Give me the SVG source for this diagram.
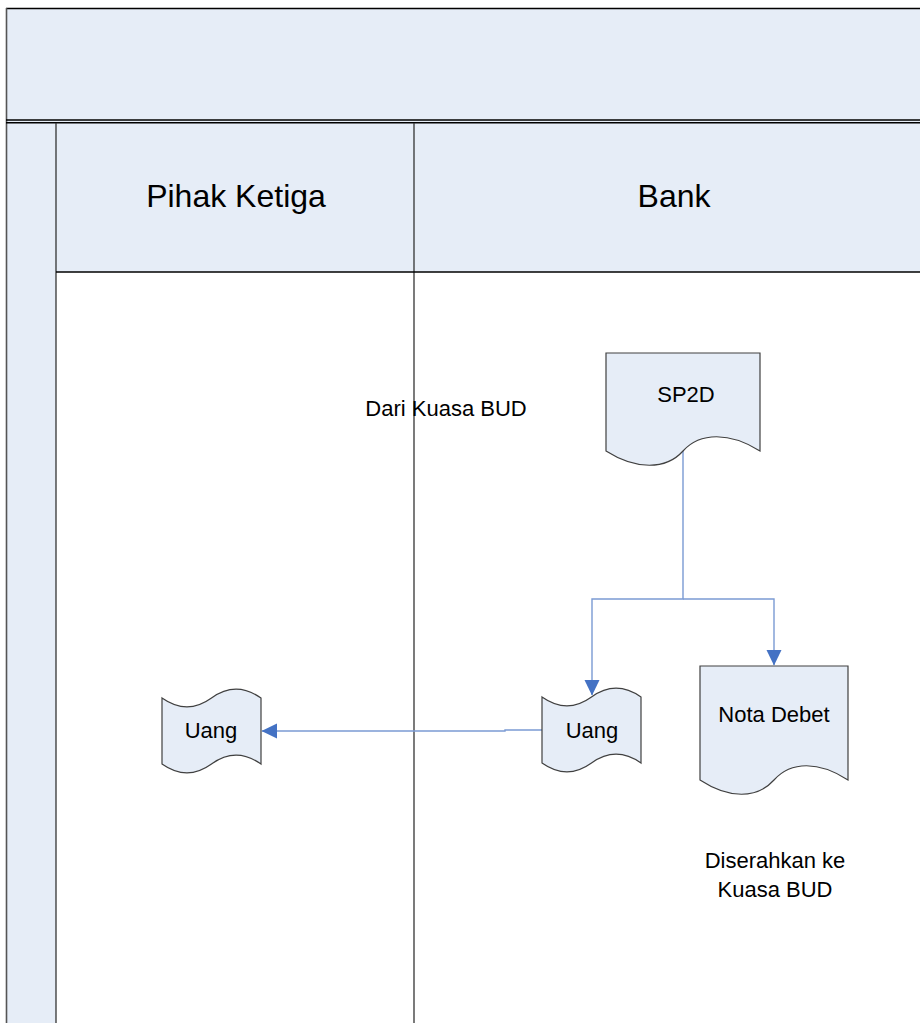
<svg xmlns="http://www.w3.org/2000/svg" width="920" height="1023" viewBox="0 0 920 1023">
  <style>
    .frame { fill: #E6EDF7; stroke: none; }
    .rule { stroke: #000; stroke-width: 1.4; fill: none; }
    .lane { stroke: #333; stroke-width: 1.3; fill: none; }
    .doc { fill: #E6EDF7; stroke: #404040; stroke-width: 1.2; }
    .title { font-family: "Liberation Sans", Arial, sans-serif; font-size: 32px; fill: #000; text-anchor: middle; }
    .label { font-family: "Liberation Sans", Arial, sans-serif; font-size: 22px; fill: #000; text-anchor: middle; }
    .flow { stroke: #7B9BD3; stroke-width: 1.4; fill: none; }
  </style>
  <defs>
    <marker id="arrow" markerUnits="userSpaceOnUse" markerWidth="16" markerHeight="16" viewBox="0 0 16 16" refX="15" refY="8" orient="auto">
      <path d="M0,0.5 L15.5,8 L0,15.5 Z" fill="#4472C4"/>
    </marker>
  </defs>

  <rect width="920" height="1023" fill="#fff"/>

  <!-- pool frame: title band, label strip and lane headers -->
  <g id="pool">
    <rect class="frame" x="6" y="8" width="920" height="114"/>
    <rect class="frame" x="6" y="122" width="50" height="901"/>
    <rect class="frame" x="56" y="122" width="870" height="150"/>
    <line class="rule" x1="6" y1="8.5" x2="920" y2="8.5" stroke-width="1.8"/>
    <line x1="6.5" y1="8" x2="6.5" y2="1023" stroke="#555" stroke-width="1.6"/>
    <line class="rule" x1="6" y1="120" x2="920" y2="120"/>
    <line class="rule" x1="6" y1="122.8" x2="920" y2="122.8" stroke-width="1.1"/>
    <line class="lane" x1="56" y1="123" x2="56" y2="1023" stroke-width="1.6"/>
    <line class="lane" x1="414" y1="123" x2="414" y2="1023"/>
    <line class="rule" x1="56" y1="272" x2="920" y2="272" stroke-width="1.3"/>
  </g>

  <g id="lane-pihak-ketiga">
    <text class="title" x="236" y="207">Pihak Ketiga</text>
  </g>
  <g id="lane-bank">
    <text class="title" x="674" y="207">Bank</text>
  </g>

  <!-- connectors -->
  <g id="connectors">
    <polyline class="flow" points="683,451 683,599 592,599 592,695" marker-end="url(#arrow)"/>
    <polyline class="flow" points="683,599 774,599 774,665" marker-end="url(#arrow)"/>
    <polyline class="flow" points="542,730 505,730 505,731 262,731" marker-end="url(#arrow)"/>
  </g>

  <g id="sp2d">
    <path class="doc" d="M606,353 H760 V451 C730,432 700,432 683,451 C666,470 636,470 606,451 Z"/>
    <text class="label" x="686" y="402">SP2D</text>
  </g>

  <g id="nota-debet">
    <path class="doc" d="M700,666 H848 V780 C819,761 791,761 774,780 C757,799 729,799 700,780 Z"/>
    <text class="label" x="774" y="722">Nota Debet</text>
  </g>

  <g id="uang-bank">
    <path class="doc" d="M542,697 C559,709 575,709 591.5,697 C608,685 624,685 641,697 V763 C624,751 608,751 591.5,763 C575,775 559,775 542,763 Z"/>
    <text class="label" x="592" y="738">Uang</text>
  </g>

  <g id="uang-pihak-ketiga">
    <path class="doc" d="M162,698 C179,710 195,710 211.5,698 C228,686 244,686 261,698 V764 C244,752 228,752 211.5,764 C195,776 179,776 162,764 Z"/>
    <text class="label" x="211" y="738">Uang</text>
  </g>

  <g id="note-dari">
    <text class="label" x="446" y="416">Dari Kuasa BUD</text>
  </g>
  <g id="note-diserahkan">
    <text class="label" x="775" y="868">Diserahkan ke</text>
    <text class="label" x="775" y="897">Kuasa BUD</text>
  </g>
</svg>
